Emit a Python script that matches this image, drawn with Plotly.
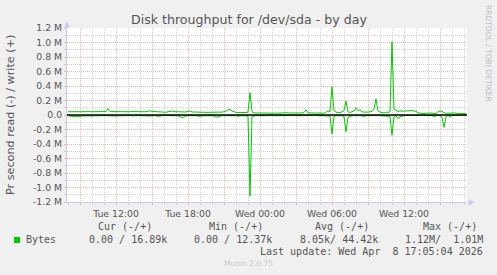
import plotly.graph_objects as go
from datetime import datetime, timedelta

# ---------------- data (5-min rrd averaged to 10-min samples), values in kB/s ----------------
start_time = datetime(2026, 4, 7, 8, 0)
step_minutes = 10

write_k = [
    45, 46, 44, 45, 47, 45, 44, 46, 45, 44,
    45, 46, 45, 44, 46, 47, 45, 44, 45, 48,
    90, 50, 47, 46, 48, 47, 45, 44, 46, 45,
    44, 45, 47, 46, 45, 44, 45, 46, 44, 45,
    52, 58, 50, 47, 45, 44, 46, 40, 36, 38,
    45, 50, 55, 46, 44, 42, 40, 38, 40, 42,
    50, 55, 42, 40, 38, 36, 37, 38, 36, 35,
    36, 38, 37, 35, 34, 36, 38, 40, 45, 55,
    65, 80, 55, 40, 36, 35, 34, 36, 35, 34,
    40, 310, 45, 30, 28, 27, 26, 28, 27, 26,
    25, 26, 28, 27, 26, 25, 27, 30, 35, 32,
    28, 27, 26, 25, 27, 28, 26, 27, 35, 70,
    30, 27, 26, 25, 26, 27, 28, 26, 25, 40,
    60, 45, 390, 60, 40, 35, 30, 45, 60, 190,
    45, 35, 40, 55, 100, 60, 70, 45, 40, 35,
    40, 45, 50, 90, 220, 60, 40, 35, 30, 40,
    35, 45, 1010, 80, 60, 50, 55, 50, 52, 55,
    58, 55, 60, 55, 52, 30, 25, 22, 20, 25,
    30, 28, 25, 22, 20, 45, 55, 50, 30, 25,
    22, 20, 25, 28, 22, 20, 18, 20, 17, 17,
]

read_k = [
    10, 15, 12, 20, 25, 18, 22, 15, 12, 10,
    12, 15, 10, 8, 10, 12, 15, 10, 8, 10,
    10, 12, 8, 10, 15, 12, 10, 8, 12, 10,
    10, 8, 12, 15, 10, 8, 10, 12, 10, 8,
    10, 15, 12, 10, 8, 20, 12, 10, 8, 10,
    12, 10, 8, 15, 10, 12, 20, 40, 25, 12,
    10, 8, 10, 12, 10, 15, 20, 12, 10, 8,
    10, 12, 10, 15, 30, 25, 12, 10, 8, 10,
    10, 8, 10, 12, 8, 20, 10, 8, 10, 12,
    15, 1120, 20, 10, 8, 10, 12, 10, 8, 10,
    8, 10, 8, 6, 8, 10, 8, 6, 8, 10,
    8, 6, 8, 10, 8, 6, 8, 10, 8, 6,
    8, 10, 8, 6, 8, 10, 12, 8, 10, 15,
    20, 15, 260, 20, 10, 8, 15, 10, 20, 230,
    30, 15, 10, 8, 12, 10, 8, 15, 20, 10,
    8, 10, 12, 8, 10, 8, 10, 12, 8, 10,
    15, 20, 280, 20, 10, 50, 25, 15, 10, 8,
    6, 5, 4, 5, 6, 5, 4, 3, 4, 5,
    4, 5, 10, 20, 8, 5, 10, 30, 170, 20,
    5, 30, 3, 8, 8, 4, 2, 1, 0, 0,
]

times = [start_time + timedelta(minutes=step_minutes * i) for i in range(len(write_k))]
write_vals = [v * 1000 for v in write_k]
read_vals = [-v * 1000 for v in read_k]

y_tick_values = [1.2e6, 1.0e6, 0.8e6, 0.6e6, 0.4e6, 0.2e6, 0.0,
                 -0.2e6, -0.4e6, -0.6e6, -0.8e6, -1.0e6, -1.2e6]
y_tick_labels = ["1.2 M", "1.0 M", "0.8 M", "0.6 M", "0.4 M", "0.2 M", "0.0",
                 "-0.2 M", "-0.4 M", "-0.6 M", "-0.8 M", "-1.0 M", "-1.2 M"]

x_tick_values = [datetime(2026, 4, 7, 9), datetime(2026, 4, 7, 12), datetime(2026, 4, 7, 15),
                 datetime(2026, 4, 7, 18), datetime(2026, 4, 7, 21), datetime(2026, 4, 8, 0),
                 datetime(2026, 4, 8, 3), datetime(2026, 4, 8, 6), datetime(2026, 4, 8, 9),
                 datetime(2026, 4, 8, 12), datetime(2026, 4, 8, 15)]
x_tick_labels = ["", "Tue 12:00", "", "Tue 18:00", "", "Wed 00:00",
                 "", "Wed 06:00", "", "Wed 12:00", ""]
x_range = [datetime(2026, 4, 7, 7, 55), datetime(2026, 4, 8, 17, 15)]

title_text = "Disk throughput for /dev/sda - by day"
y_title = "Pr second read (-) / write (+)"
legend_headers = ["Cur (-/+)", "Min (-/+)", "Avg (-/+)", "Max (-/+)"]
legend_label = "Bytes"
legend_values = ["0.00 / 16.89k", "0.00 / 12.37k", "8.05k/ 44.42k", "1.12M/  1.01M"]
last_update = "Last update: Wed Apr  8 17:05:04 2026"
munin_version = "Munin 2.0.75"
rrd_credit = "RRDTOOL / TOBI OETIKER"

# ---------------- style ----------------
W, H = 497, 275
ML, MR, MT, MB = 67, 30, 28, 73
PW, PH = W - ML - MR, H - MT - MB
GREEN = "#00CC00"
TEXT = "#555555"
MAJOR_GRID = "#F7B4B4"
MINOR_GRID = "#D2D2D2"
AXIS_COL = "#C8C8F0"
SANS = "DejaVu Sans"
MONO = "DejaVu Sans Mono"


def px2x(px):
    return (px - ML) / PW


def px2y(py):
    return (MT + PH - py) / PH


fig = go.Figure()
fig.add_trace(go.Scatter(x=times, y=write_vals, mode="lines",
                         line=dict(color=GREEN, width=1), hoverinfo="skip", showlegend=False))
fig.add_trace(go.Scatter(x=times, y=read_vals, mode="lines",
                         line=dict(color=GREEN, width=1), hoverinfo="skip", showlegend=False))

fig.update_layout(
    width=W, height=H,
    margin=dict(l=ML, r=MR, t=MT, b=MB, pad=0),
    paper_bgcolor="#F0F0F0",
    plot_bgcolor="#FFFFFF",
    showlegend=False,
    font=dict(family=SANS, color=TEXT, size=9),
)

fig.update_xaxes(
    type="date", range=x_range,
    tickmode="array", tickvals=x_tick_values, ticktext=x_tick_labels,
    tickfont=dict(family=SANS, size=9.3, color=TEXT),
    showgrid=True, gridcolor=MAJOR_GRID, griddash="1px,1px", gridwidth=1,
    ticks="outside", ticklen=2, tickcolor=MAJOR_GRID, tickwidth=1,
    showline=True, linecolor=AXIS_COL, linewidth=1,
    zeroline=False,
    ticklabelstandoff=1,
    minor=dict(tickmode="linear", tick0=datetime(2026, 4, 7, 0), dtick=3600000,
               showgrid=True, gridcolor=MINOR_GRID, griddash="1px,1px", gridwidth=1,
               ticks="outside", ticklen=2, tickcolor=MINOR_GRID),
)

fig.update_yaxes(
    range=[-1.2e6, 1.2e6],
    tickmode="array", tickvals=y_tick_values, ticktext=y_tick_labels,
    tickfont=dict(family=SANS, size=9.3, color=TEXT),
    showgrid=True, gridcolor=MAJOR_GRID, griddash="1px,1px", gridwidth=1,
    ticks="outside", ticklen=2, tickcolor=MAJOR_GRID, tickwidth=1,
    showline=True, linecolor=AXIS_COL, linewidth=1,
    zeroline=False,
    ticklabelstandoff=0,
    minor=dict(tickmode="linear", tick0=0, dtick=1e5,
               showgrid=True, gridcolor=MINOR_GRID, griddash="1px,1px", gridwidth=1,
               ticks="outside", ticklen=2, tickcolor=MINOR_GRID),
)

shapes = []
# zero line (black) on top of the data
shapes.append(dict(type="line", xref="paper", yref="y", x0=0, x1=1, y0=0, y1=0,
                   line=dict(color="#000000", width=1.4), layer="above"))
# axis arrows
shapes.append(dict(type="path", xref="paper", yref="paper",
                   path=f"M {px2x(64)} {px2y(27.5)} L {px2x(67)} {px2y(21.5)} L {px2x(70)} {px2y(27.5)} Z",
                   fillcolor=AXIS_COL, line=dict(width=0), layer="above"))
shapes.append(dict(type="line", xref="paper", yref="paper",
                   x0=px2x(67), x1=px2x(67), y0=px2y(28), y1=px2y(23),
                   line=dict(color=AXIS_COL, width=1)))
shapes.append(dict(type="path", xref="paper", yref="paper",
                   path=f"M {px2x(468.5)} {px2y(199.5)} L {px2x(474.5)} {px2y(202.5)} L {px2x(468.5)} {px2y(205.5)} Z",
                   fillcolor=AXIS_COL, line=dict(width=0), layer="above"))
# legend swatch
shapes.append(dict(type="rect", xref="paper", yref="paper",
                   x0=px2x(14), x1=px2x(20), y0=px2y(243), y1=px2y(237),
                   fillcolor=GREEN, line=dict(width=0)))
fig.update_layout(shapes=shapes)

annotations = []


def add_text(text, px, py, size, family=SANS, color=TEXT, xanchor="center", angle=0):
    annotations.append(dict(text=text, x=px2x(px), y=px2y(py), xref="paper", yref="paper",
                            xanchor=xanchor, yanchor="middle", showarrow=False,
                            textangle=angle, borderpad=0, borderwidth=0,
                            font=dict(family=family, size=size, color=color)))


add_text(title_text, 248.5, 19.3, 12.6)
add_text(y_title, 10, 115, 11.2, angle=-90)
add_text(rrd_credit, 489, 53, 7.5, color="#BDBDBD", angle=90)

header_centers = [125, 236, 341.5, 449.7]
for h, cx in zip(legend_headers, header_centers):
    add_text(h, cx, 226.7, 10, family=MONO)
add_text(legend_label, 26.3, 239.7, 10, family=MONO, xanchor="left")
value_lefts = [88.7, 194.3, 299.7, 405]
for v, lx in zip(legend_values, value_lefts):
    add_text(v, lx, 239.7, 10, family=MONO, xanchor="left")
add_text(last_update, 483, 251.7, 10, family=MONO, xanchor="right")
add_text(munin_version, 248, 263.7, 7.5, color="#C8C8C8")

fig.update_layout(annotations=annotations)

fig.write_html("out.html")
